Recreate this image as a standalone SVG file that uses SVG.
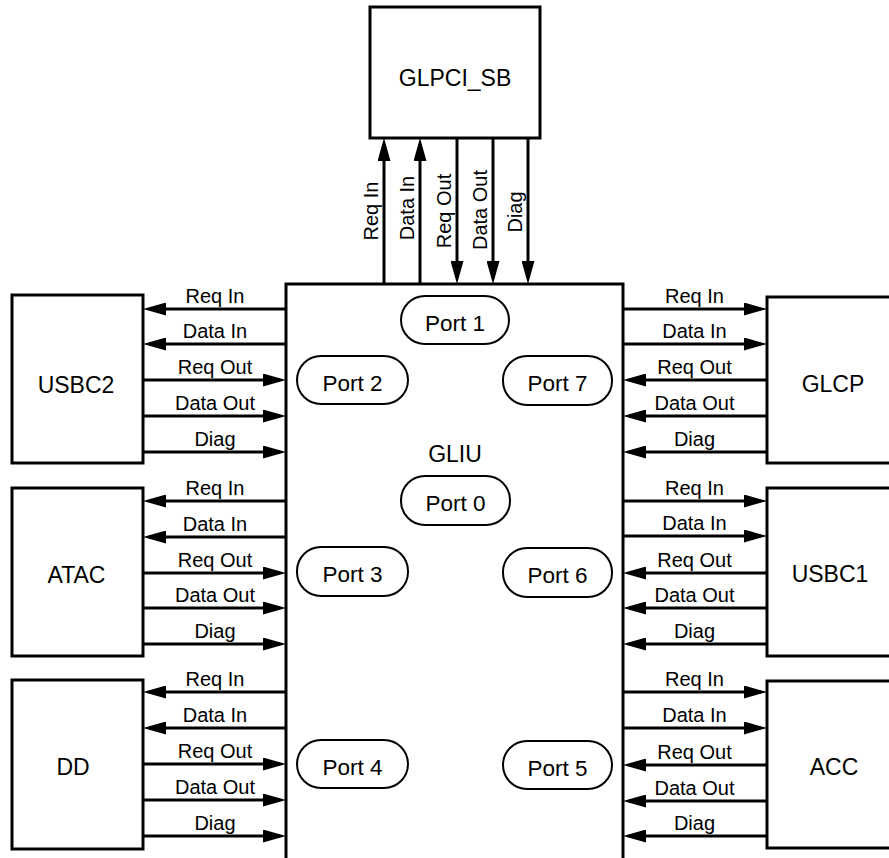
<svg xmlns="http://www.w3.org/2000/svg" width="889" height="858" viewBox="0 0 889 858">
<style>
  .box{fill:#fff;stroke:#000;stroke-width:3}
  .port{fill:#fff;stroke:#000;stroke-width:2}
  .ln{stroke:#000;stroke-width:3;fill:none}
  .name{font-family:"Liberation Sans",Arial,sans-serif;font-size:23px;text-anchor:middle;fill:#000}
  .pt{font-family:"Liberation Sans",Arial,sans-serif;font-size:22.5px;text-anchor:middle;fill:#000}
  .lb{font-family:"Liberation Sans",Arial,sans-serif;font-size:20px;text-anchor:middle;fill:#000}
</style>
<defs>
  <marker id="ah" viewBox="0 0 23 13" markerUnits="userSpaceOnUse" markerWidth="23" markerHeight="13" refX="17" refY="6.5" orient="auto">
    <path d="M0,0 L23,6.5 L0,13 z" fill="#000"/>
  </marker>
</defs>
<rect width="889" height="858" fill="#fff"/>

<g id="GLIU">
  <path class="ln" d="M286,858 V284 H623 V858"/>
  <text class="name" x="455" y="462">GLIU</text>
</g>

<g id="GLPCI_SB">
  <rect class="box" x="370" y="7" width="170" height="131"/>
  <text class="name" x="455" y="86">GLPCI_SB</text>
</g>

<g id="USBC2">
  <rect class="box" x="12" y="295" width="131" height="168"/>
  <text class="name" x="76" y="393">USBC2</text>
</g>
<g id="ATAC">
  <rect class="box" x="12" y="488" width="131" height="168"/>
  <text class="name" x="76.5" y="583">ATAC</text>
</g>
<g id="DD">
  <rect class="box" x="12" y="680" width="131" height="169"/>
  <text class="name" x="73" y="775">DD</text>
</g>
<g id="GLCP">
  <rect class="box" x="767" y="297" width="140" height="166"/>
  <text class="name" x="833" y="392">GLCP</text>
</g>
<g id="USBC1">
  <rect class="box" x="767" y="488" width="140" height="168"/>
  <text class="name" x="830" y="582">USBC1</text>
</g>
<g id="ACC">
  <rect class="box" x="767" y="681" width="140" height="167"/>
  <text class="name" x="834" y="775">ACC</text>
</g>

<g id="Port1"><rect class="port" x="401" y="296" width="108" height="48" rx="24"/><text class="pt" x="455" y="331">Port 1</text></g>
<g id="Port2"><rect class="port" x="297" y="356" width="111" height="48" rx="24"/><text class="pt" x="352.5" y="391">Port 2</text></g>
<g id="Port7"><rect class="port" x="503" y="356" width="109" height="49" rx="24"/><text class="pt" x="557.5" y="391">Port 7</text></g>
<g id="Port0"><rect class="port" x="401" y="476" width="109" height="49" rx="24"/><text class="pt" x="455.5" y="511">Port 0</text></g>
<g id="Port3"><rect class="port" x="297" y="547" width="111" height="49" rx="24"/><text class="pt" x="352.5" y="582">Port 3</text></g>
<g id="Port6"><rect class="port" x="503" y="548" width="109" height="49" rx="24"/><text class="pt" x="557.5" y="583">Port 6</text></g>
<g id="Port4"><rect class="port" x="297" y="740" width="111" height="48" rx="24"/><text class="pt" x="352.5" y="775">Port 4</text></g>
<g id="Port5"><rect class="port" x="503" y="741" width="109" height="48" rx="24"/><text class="pt" x="557.5" y="776">Port 5</text></g>

<g id="connectors">
  <line class="ln" x1="384" y1="284" x2="384" y2="144" marker-end="url(#ah)"/>
  <line class="ln" x1="420" y1="284" x2="420" y2="144" marker-end="url(#ah)"/>
  <line class="ln" x1="457" y1="138" x2="457" y2="278" marker-end="url(#ah)"/>
  <line class="ln" x1="493" y1="138" x2="493" y2="278" marker-end="url(#ah)"/>
  <line class="ln" x1="528" y1="138" x2="528" y2="278" marker-end="url(#ah)"/>
  <text class="lb" transform="translate(378,211) rotate(-90)">Req In</text>
  <text class="lb" transform="translate(414,208) rotate(-90)">Data In</text>
  <text class="lb" transform="translate(451,211) rotate(-90)">Req Out</text>
  <text class="lb" transform="translate(487,210) rotate(-90)">Data Out</text>
  <text class="lb" transform="translate(522,212) rotate(-90)">Diag</text>

  <line class="ln" x1="286" y1="309" x2="149" y2="309" marker-end="url(#ah)"/>
  <line class="ln" x1="286" y1="344" x2="149" y2="344" marker-end="url(#ah)"/>
  <line class="ln" x1="143" y1="380" x2="280" y2="380" marker-end="url(#ah)"/>
  <line class="ln" x1="143" y1="416" x2="280" y2="416" marker-end="url(#ah)"/>
  <line class="ln" x1="143" y1="452" x2="280" y2="452" marker-end="url(#ah)"/>
  <text class="lb" x="215" y="303">Req In</text>
  <text class="lb" x="215" y="338">Data In</text>
  <text class="lb" x="215" y="374">Req Out</text>
  <text class="lb" x="215" y="410">Data Out</text>
  <text class="lb" x="215" y="446">Diag</text>

  <line class="ln" x1="286" y1="501" x2="149" y2="501" marker-end="url(#ah)"/>
  <line class="ln" x1="286" y1="537" x2="149" y2="537" marker-end="url(#ah)"/>
  <line class="ln" x1="143" y1="573" x2="280" y2="573" marker-end="url(#ah)"/>
  <line class="ln" x1="143" y1="608" x2="280" y2="608" marker-end="url(#ah)"/>
  <line class="ln" x1="143" y1="644" x2="280" y2="644" marker-end="url(#ah)"/>
  <text class="lb" x="215" y="495">Req In</text>
  <text class="lb" x="215" y="531">Data In</text>
  <text class="lb" x="215" y="567">Req Out</text>
  <text class="lb" x="215" y="602">Data Out</text>
  <text class="lb" x="215" y="638">Diag</text>

  <line class="ln" x1="286" y1="692" x2="149" y2="692" marker-end="url(#ah)"/>
  <line class="ln" x1="286" y1="728" x2="149" y2="728" marker-end="url(#ah)"/>
  <line class="ln" x1="143" y1="764" x2="280" y2="764" marker-end="url(#ah)"/>
  <line class="ln" x1="143" y1="800" x2="280" y2="800" marker-end="url(#ah)"/>
  <line class="ln" x1="143" y1="836" x2="280" y2="836" marker-end="url(#ah)"/>
  <text class="lb" x="215" y="686">Req In</text>
  <text class="lb" x="215" y="722">Data In</text>
  <text class="lb" x="215" y="758">Req Out</text>
  <text class="lb" x="215" y="794">Data Out</text>
  <text class="lb" x="215" y="830">Diag</text>

  <line class="ln" x1="623" y1="309" x2="761" y2="309" marker-end="url(#ah)"/>
  <line class="ln" x1="623" y1="344" x2="761" y2="344" marker-end="url(#ah)"/>
  <line class="ln" x1="767" y1="380" x2="629" y2="380" marker-end="url(#ah)"/>
  <line class="ln" x1="767" y1="416" x2="629" y2="416" marker-end="url(#ah)"/>
  <line class="ln" x1="767" y1="452" x2="629" y2="452" marker-end="url(#ah)"/>
  <text class="lb" x="694.5" y="303">Req In</text>
  <text class="lb" x="694.5" y="338">Data In</text>
  <text class="lb" x="694.5" y="374">Req Out</text>
  <text class="lb" x="694.5" y="410">Data Out</text>
  <text class="lb" x="694.5" y="446">Diag</text>

  <line class="ln" x1="623" y1="501" x2="761" y2="501" marker-end="url(#ah)"/>
  <line class="ln" x1="623" y1="536" x2="761" y2="536" marker-end="url(#ah)"/>
  <line class="ln" x1="767" y1="573" x2="629" y2="573" marker-end="url(#ah)"/>
  <line class="ln" x1="767" y1="608" x2="629" y2="608" marker-end="url(#ah)"/>
  <line class="ln" x1="767" y1="644" x2="629" y2="644" marker-end="url(#ah)"/>
  <text class="lb" x="694.5" y="495">Req In</text>
  <text class="lb" x="694.5" y="530">Data In</text>
  <text class="lb" x="694.5" y="567">Req Out</text>
  <text class="lb" x="694.5" y="602">Data Out</text>
  <text class="lb" x="694.5" y="638">Diag</text>

  <line class="ln" x1="623" y1="692" x2="761" y2="692" marker-end="url(#ah)"/>
  <line class="ln" x1="623" y1="728" x2="761" y2="728" marker-end="url(#ah)"/>
  <line class="ln" x1="767" y1="765" x2="629" y2="765" marker-end="url(#ah)"/>
  <line class="ln" x1="767" y1="801" x2="629" y2="801" marker-end="url(#ah)"/>
  <line class="ln" x1="767" y1="836" x2="629" y2="836" marker-end="url(#ah)"/>
  <text class="lb" x="694.5" y="686">Req In</text>
  <text class="lb" x="694.5" y="722">Data In</text>
  <text class="lb" x="694.5" y="759">Req Out</text>
  <text class="lb" x="694.5" y="795">Data Out</text>
  <text class="lb" x="694.5" y="830">Diag</text>
</g>
</svg>
